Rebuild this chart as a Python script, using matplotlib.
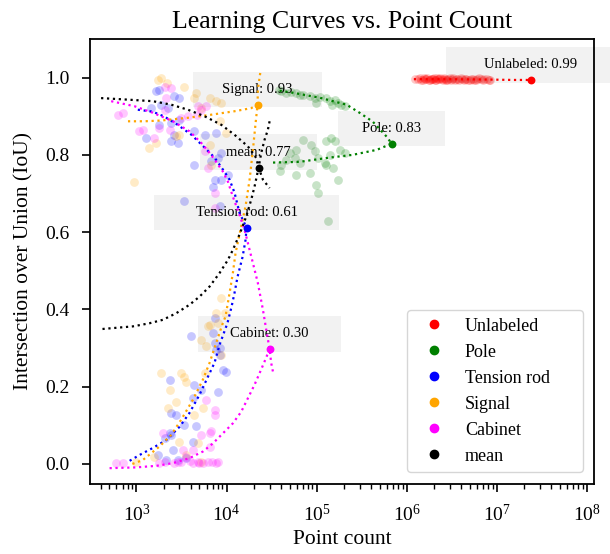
import numpy as np
import matplotlib
matplotlib.use("Agg")
import matplotlib.pyplot as plt
from matplotlib.path import Path
from matplotlib.lines import Line2D

plt.rcParams['font.family'] = ['Liberation Serif', 'DejaVu Serif']
plt.rcParams['mathtext.fontset'] = 'custom'
plt.rcParams['mathtext.rm'] = 'Liberation Serif'
plt.rcParams['mathtext.it'] = 'Liberation Serif:italic'

# ---------------- data ----------------
classes = ["Unlabeled", "Pole", "Tension rod", "Signal", "Cabinet", "mean"]
colors = ["red", "green", "blue", "orange", "magenta", "black"]

unlabeled_x = [1.25e6, 1.32e6, 1.4e6, 1.45e6, 1.5e6, 1.55e6, 1.6e6, 1.65e6, 1.7e6, 1.75e6,
               1.8e6, 1.85e6, 1.9e6, 1.95e6, 2.0e6, 2.05e6, 2.1e6, 2.15e6, 2.2e6, 2.3e6,
               2.35e6, 2.45e6, 2.5e6, 2.6e6, 2.65e6, 2.75e6, 2.8e6, 2.9e6, 3.0e6, 3.1e6,
               3.2e6, 3.3e6, 3.4e6, 3.55e6, 3.7e6, 3.85e6, 4.0e6, 4.15e6, 4.3e6, 4.45e6,
               4.6e6, 4.8e6, 5.0e6, 5.2e6, 5.4e6, 5.6e6, 5.9e6, 6.1e6, 6.4e6, 6.7e6,
               7.0e6, 7.3e6, 7.7e6, 8.1e6, 8.5e6]
unlabeled_y = [0.996, 0.997, 0.998, 0.995, 0.995, 0.998, 0.997, 0.996, 0.999, 0.995,
               0.995, 0.997, 0.997, 0.996, 0.998, 0.995, 0.995, 0.998, 0.996, 0.997,
               0.999, 0.996, 0.995, 0.998, 0.997, 0.995, 0.994, 0.997, 0.998, 0.995,
               0.996, 0.998, 0.995, 0.996, 0.997, 0.995, 0.999, 0.996, 0.995, 0.997,
               0.996, 0.995, 0.994, 0.997, 0.997, 0.995, 0.995, 0.997, 0.998, 0.996,
               0.995, 0.997, 0.996, 0.995, 0.995]

pole_x = [4.06e4, 4.6e4, 5.94e4, 7.05e4, 8.36e4, 9.5e4, 9.9e4, 1.28e5, 1.39e5, 1.58e5,
          1.73e5, 1.88e5, 2.05e5, 3.8e4, 5.2e4, 6.5e4, 1.1e5, 1.5e5,
          7.05e4, 8.73e4, 9.5e4, 1.28e5, 1.46e5, 1.58e5, 1.8e5, 2.05e5, 1.39e5, 1.23e5,
          1.04e5, 1.28e5, 1.52e5, 1.73e5, 8.36e4, 5.94e4, 4.06e4, 3.88e4, 4.6e4, 5.7e4,
          6.47e4, 9.9e4, 1.04e5, 1.34e5, 5.0e4, 5.94e4]
pole_y = [0.965, 0.960, 0.960, 0.956, 0.952, 0.947, 0.934, 0.947, 0.939, 0.943,
          0.934, 0.930, 0.926, 0.968, 0.962, 0.955, 0.950, 0.930,
          0.839, 0.826, 0.809, 0.835, 0.844, 0.835, 0.813, 0.805, 0.800, 0.779,
          0.792, 0.775, 0.766, 0.736, 0.753, 0.749, 0.775, 0.757, 0.788, 0.792,
          0.779, 0.723, 0.701, 0.628, 0.805, 0.813]

tension_x = [1660, 1800, 2640, 3000, 2230, 1880, 1460, 1800, 2430, 3000, 2640, 1280, 2430,
             2880, 4400, 5700, 7670, 8730, 8020, 4400, 6760, 7360, 8730, 10350, 7050, 3410,
             8360,
             4060, 7050, 7360, 7670, 8360, 9100, 9930, 2330, 4400, 5240, 8020, 4230, 2430,
             2760, 3410, 4600, 2430, 2050, 2540, 4230, 1730, 2140, 3560, 2880, 7360, 8360,
             2330]
tension_y = [0.965, 0.969, 0.952, 0.947, 0.921, 0.930, 0.921, 0.878, 0.883, 0.891, 0.852,
             0.844, 0.835, 0.831, 0.861, 0.852, 0.857, 0.805, 0.792, 0.775, 0.783, 0.736,
             0.736, 0.749, 0.718, 0.680, 0.667,
             0.332, 0.339, 0.313, 0.295, 0.282, 0.244, 0.239, 0.218, 0.205, 0.192, 0.187,
             0.170, 0.131, 0.127, 0.101, 0.097, 0.075, 0.067, 0.036, 0.058, 0.023, 0.010,
             0.015, 0.010, 0.377, 0.300, 0.080]

signal_x = [1730, 1880, 3410, 4400, 6470, 7670, 8730, 3000, 1390, 1660, 9930, 8360, 6760,
            950, 4600, 2760, 5240, 6470, 2200,
            6470, 8020, 5240, 5940, 8730, 1880, 3130, 3560, 2330, 5700, 2760, 2230, 5460,
            4400, 3000, 4800, 990, 1580, 3560, 5240, 8730, 7670, 9500, 6210, 3410]
signal_y = [0.995, 0.999, 0.977, 0.947, 0.947, 0.939, 0.934, 0.852, 0.818, 0.831, 0.857,
            0.887, 0.775, 0.731, 0.960, 0.849, 0.921, 0.826, 0.985,
            0.360, 0.364, 0.321, 0.304, 0.282, 0.235, 0.235, 0.213, 0.192, 0.235, 0.161,
            0.144, 0.144, 0.127, 0.058, 0.053, 0.006, 0.019, 0.023, 0.006, 0.429, 0.390,
            0.390, 0.356, 0.226]

cabinet_x = [621, 705, 1175, 1080, 1800, 2140, 2430, 2050, 3130, 3720, 4800, 5240, 2330,
             6210, 5700, 1580, 7360, 7360, 2050, 4760, 5940,
             594, 705, 1800, 2050, 2640, 3130, 4230, 4800, 5460, 6210, 7670, 3560, 1960,
             5240, 6470, 5940, 7360, 7360, 3270, 6470, 4230, 6760, 2900, 3900, 5000, 6900,
             8000]
cabinet_y = [0.904, 0.909, 0.865, 0.861, 0.870, 0.947, 0.973, 0.977, 0.896, 0.900, 0.926,
             0.917, 0.865, 0.766, 0.809, 0.844, 0.701, 0.662, 0.917, 0.904, 0.926,
             0.002, 0.002, 0.002, 0.006, 0.002, 0.006, 0.002, 0.006, 0.002, 0.006, 0.002,
             0.019, 0.079, 0.075, 0.079, 0.166, 0.140, 0.127, 0.036, 0.045, 0.036, 0.084,
             0.004, 0.008, 0.003, 0.004, 0.006]

# fitted learning curves (NaN separates branches)
nan = float("nan")
unlabeled_fit_x = [1.2e6, 3e6, 8e6, 1.5e7, 2.4e7]
unlabeled_fit_y = [0.996, 0.996, 0.995, 0.994, 0.994]

pole_fit_x = [3.88e4, 5.4e4, 1.08e5, 2.15e5, 3.0e5, 4.2e5, 6.0e5, 6.8e5,
              4.65e5, 2.5e5, 1.39e5, 6.47e4, 3.16e4]
pole_fit_y = [0.966, 0.961, 0.948, 0.930, 0.909, 0.886, 0.847, 0.829,
              0.813, 0.800, 0.793, 0.782, 0.780]

tension_fit_x = [840, 1080, 1510, 2150, 3010, 3880, 5010, 6000, 7360, 8360, 10250, 11370,
                 12270, 13240, 15070, 16260, 16700, 13930, 12270, 10800, 9500, 7360, 5700,
                 4080, 2860, 2050, 1510, 1030]
tension_fit_y = [0.008, 0.023, 0.041, 0.062, 0.096, 0.132, 0.179, 0.218, 0.262, 0.308, 0.365,
                 0.407, 0.443, 0.484, 0.536, 0.580, 0.611, 0.650, 0.702, 0.736, 0.756, 0.793,
                 0.819, 0.852, 0.878, 0.899, 0.912, 0.917]

signal_fit_x = [805, 1230, 1880, 3720, 6760, 12270, 18790, 22100, nan,
                23660, 22280, 22100, 20840, 19630, 18030, 16260, 14550, 12590, 11750, 10800,
                9750, 8950, 7670, 6470, 5460, 4230, 3130, 2430, 1800, 1175, 836]
signal_fit_y = [0.887, 0.887, 0.889, 0.896, 0.904, 0.913, 0.921, 0.930, nan,
                1.012, 0.969, 0.930, 0.874, 0.813, 0.736, 0.667, 0.615, 0.546, 0.494, 0.442,
                0.382, 0.360, 0.313, 0.261, 0.218, 0.166, 0.114, 0.075, 0.045, 0.010, -0.003]

cabinet_fit_x = [524, 950, 1520, 2540, 3880, 5240, 6760, 9100, 10350, 11750, 13930, 15850,
                 18030, 20460, 22280, 25350, 27610, 30060, 31330, 32730, nan,
                 30060, 26420, 23280, 20460, 17260, 14550, 11750, 9100, 7050, 5460, 3880,
                 2540, 1660, 990, 500]
cabinet_fit_y = [0.939, 0.926, 0.909, 0.887, 0.861, 0.831, 0.800, 0.757, 0.731, 0.692,
                 0.645, 0.606, 0.554, 0.503, 0.468, 0.399, 0.347, 0.297, 0.261, 0.239, nan,
                 0.297, 0.265, 0.235, 0.205, 0.170, 0.135, 0.105, 0.079, 0.053, 0.032, 0.015,
                 0.002, -0.005, -0.009, -0.011]

mean_fit_x = [405, 805, 1520, 2430, 3720, 5700, 8730, 12270, 17260, 21380, 22700, 25350,
              30060, nan,
              30060, 28770, 26420, 24270, 22700, 20460, 18790, 16560, 14000, 11750, 10350,
              8360, 6470, 5010, 3880, 2760, 1960, 1390, 910, 405]
mean_fit_y = [0.947, 0.943, 0.939, 0.930, 0.917, 0.900, 0.878, 0.852, 0.822, 0.792, 0.767,
              0.736, 0.714, nan,
              0.887, 0.865, 0.839, 0.805, 0.767, 0.718, 0.684, 0.641, 0.595, 0.554, 0.528,
              0.494, 0.459, 0.433, 0.412, 0.390, 0.373, 0.364, 0.356, 0.349]

# final (largest point count) value for each curve
end_x = [2.4e7, 6.8e5, 16700, 22100, 30060, 22700]
end_y = [0.994, 0.829, 0.611, 0.930, 0.297, 0.767]

scatter_x = [unlabeled_x, pole_x, tension_x, signal_x, cabinet_x, None]
scatter_y = [unlabeled_y, pole_y, tension_y, signal_y, cabinet_y, None]
fit_x = [unlabeled_fit_x, pole_fit_x, tension_fit_x, signal_fit_x, cabinet_fit_x, mean_fit_x]
fit_y = [unlabeled_fit_y, pole_fit_y, tension_fit_y, signal_fit_y, cabinet_fit_y, mean_fit_y]


class WideBox:
    """Rectangle box with separate horizontal / vertical padding."""
    def __init__(self, padx=0.41, pady=0.78):
        self.padx = padx
        self.pady = pady

    def __call__(self, x0, y0, width, height, mutation_size):
        px = self.padx * width
        py = self.pady * mutation_size
        xa, ya = x0 - px, y0 - py
        xb, yb = x0 + width + px, y0 + height + py
        return Path([(xa, ya), (xb, ya), (xb, yb), (xa, yb), (xa, ya)], closed=True)


fig = plt.figure(figsize=(6.1, 5.54), dpi=100)
ax = fig.add_axes([90 / 610, 1 - 484 / 554, 504 / 610, 445 / 554])

for i, (name, c) in enumerate(zip(classes, colors)):
    if scatter_x[i] is not None:
        ax.scatter(scatter_x[i], scatter_y[i], s=40, color=c, alpha=0.22,
                   linewidths=0, zorder=1)
    ax.plot(fit_x[i], fit_y[i], ls=":", lw=1.6, color=c, zorder=3)
    ax.scatter([end_x[i]], [end_y[i]], s=32, color=c, zorder=5, linewidths=0)
    ax.annotate(f"{name}: {end_y[i]:.2f}", xy=(end_x[i], end_y[i]), xytext=(0, 11),
                textcoords="offset points", ha="center", va="center", fontsize=10.5,
                bbox=dict(boxstyle=WideBox(), facecolor="#808080", alpha=0.1,
                          edgecolor="none"),
                annotation_clip=False, zorder=2.5)

ax.set_xscale("log")
ax.set_xlim(305, 1.2e8)
ax.set_ylim(-0.052, 1.1)
ax.set_yticks([0.0, 0.2, 0.4, 0.6, 0.8, 1.0])
ax.set_yticklabels(["0.0", "0.2", "0.4", "0.6", "0.8", "1.0"])

for sp in ax.spines.values():
    sp.set_linewidth(1.3)
ax.tick_params(axis="both", which="major", labelsize=14, length=6, width=1.2)
ax.tick_params(axis="y", which="major", pad=9)
ax.tick_params(axis="x", which="major", pad=8)
ax.tick_params(axis="x", which="minor", length=3.5, width=1.0)

ax.set_xlabel("Point count", fontsize=15.5, labelpad=4)
ax.set_ylabel("Intersection over Union (IoU)", fontsize=15.5, labelpad=8)
ax.set_title("Learning Curves vs. Point Count", fontsize=18.6, pad=8)

handles = [Line2D([], [], marker="o", ls="none", color=c, markersize=6) for c in colors]
ax.legend(handles, classes, loc="lower right", fontsize=13, labelspacing=0.5,
          handlelength=2.2, handletextpad=0.6, borderaxespad=0,
          bbox_to_anchor=(0.629, 0.027, 0.349, 0.4), mode="expand")

fig.savefig("out.png", dpi=100)
